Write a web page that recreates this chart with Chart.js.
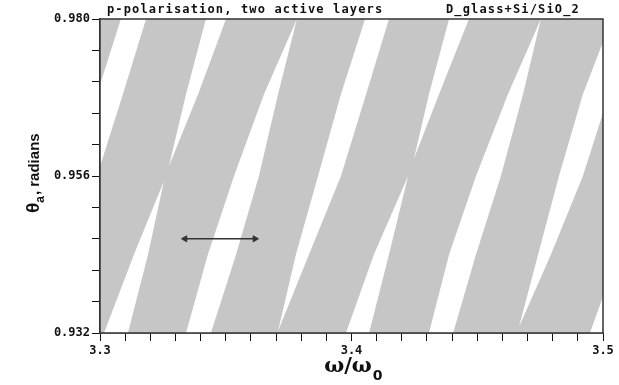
<!DOCTYPE html>
<html>
<head>
<meta charset="utf-8">
<script src="https://cdn.jsdelivr.net/npm/chart.js@4.4.1/dist/chart.umd.min.js"></script>
<style>
html, body { margin: 0; padding: 0; background: #fff; }
#caixa { width: 619px; height: 385px; }
</style>
</head>
<body>
<div id="caixa"><canvas id="grafico" width="619" height="385"></canvas></div>
<script>
// eixos
var xMin = 3.3, xMax = 3.5;
var yMin = 0.932, yMax = 0.980;
var xTicks = [3.30, 3.31, 3.32, 3.33, 3.34, 3.35, 3.36, 3.37, 3.38, 3.39, 3.40,
              3.41, 3.42, 3.43, 3.44, 3.45, 3.46, 3.47, 3.48, 3.49, 3.50];
var xLabels = [3.3, 3.4, 3.5];
var yTicks = [0.932, 0.9368, 0.9416, 0.9464, 0.9512, 0.956, 0.9608, 0.9656, 0.9704, 0.9752, 0.980];
var yLabels = [0.932, 0.956, 0.980];

// faixas brancas (gaps) entre as bandas cinzas: contorno x / y
var gapA_x = [3.3083, 3.2988, 3.2897, 3.2988, 3.3091, 3.3183];
var gapA_y = [0.980, 0.9685, 0.956, 0.956, 0.9685, 0.980];

var gapBsup_x = [3.3421, 3.3342, 3.3274, 3.3390, 3.3501];
var gapBsup_y = [0.980, 0.9685, 0.9575, 0.9685, 0.980];
var gapBinf_x = [3.3254, 3.3135, 3.3016, 3.3111, 3.3191];
var gapBinf_y = [0.9552, 0.944, 0.932, 0.932, 0.944];

var gapC_x = [3.3783, 3.3652, 3.3533, 3.3429, 3.3342, 3.3441, 3.3541, 3.3632, 3.3708];
var gapC_y = [0.980, 0.9685, 0.956, 0.944, 0.932, 0.932, 0.944, 0.956, 0.9685];

var gapD_x = [3.4054, 3.3958, 3.3867, 3.3779, 3.3708, 3.3831, 3.3958, 3.4058, 3.4149];
var gapD_y = [0.980, 0.9685, 0.956, 0.944, 0.9323, 0.944, 0.956, 0.9685, 0.980];

var gapEsup_x = [3.4388, 3.4308, 3.4248, 3.4348, 3.4467];
var gapEsup_y = [0.980, 0.9685, 0.9586, 0.9685, 0.980];
var gapEinf_x = [3.4225, 3.4089, 3.3978, 3.4070, 3.4149];
var gapEinf_y = [0.9560, 0.944, 0.932, 0.932, 0.944];

var gapF_x = [3.4753, 3.4622, 3.4495, 3.4388, 3.4308, 3.4404, 3.4495, 3.4594, 3.4682];
var gapF_y = [0.980, 0.9685, 0.956, 0.944, 0.932, 0.932, 0.944, 0.956, 0.9685];

var gapG_x = [3.5035, 3.4920, 3.4825, 3.4742, 3.4666, 3.4793, 3.4920, 3.5024, 3.5120];
var gapG_y = [0.980, 0.9685, 0.956, 0.944, 0.9329, 0.944, 0.956, 0.9685, 0.980];

var gapH_x = [3.5195, 3.5060, 3.4948, 3.5040, 3.5119];
var gapH_y = [0.9560, 0.944, 0.932, 0.932, 0.944];

// seta horizontal
var setaX = [3.3338, 3.3616];
var setaY = [0.9464, 0.9464];

var cinza = "#c6c6c6";

function pontos(xs, ys){
    return xs.map(function(x, i){ return {x: x, y: ys[i]}; });
}
function faixa(xs, ys){
    return {
        data: pontos(xs, ys),
        fill: "shape",
        backgroundColor: "#ffffff",
        borderColor: "rgba(0,0,0,0)",
        borderWidth: 0,
        pointRadius: 0,
        tension: 0
    };
}
function temLabel(lista, v){
    return lista.some(function(l){ return Math.abs(l - v) < 1e-7; });
}

var fundo = {
    id: "fundo",
    beforeDatasetsDraw: function(chart){
        var a = chart.chartArea, ctx = chart.ctx;
        ctx.save();
        ctx.fillStyle = cinza;
        ctx.fillRect(a.left, a.top, a.right - a.left, a.bottom - a.top);
        ctx.restore();
    },
    afterDatasetsDraw: function(chart){
        var a = chart.chartArea, ctx = chart.ctx;
        ctx.save();
        ctx.strokeStyle = "#333";
        ctx.lineWidth = 1.5;
        ctx.strokeRect(a.left, a.top, a.right - a.left, a.bottom - a.top);
        ctx.restore();
    }
};

var textos = {
    id: "textos",
    afterDraw: function(chart){
        var ctx = chart.ctx;
        ctx.save();
        ctx.fillStyle = "#111";
        ctx.textBaseline = "alphabetic";
        ctx.textAlign = "left";
        ctx.font = "bold 12px 'DejaVu Sans Mono'";
        ctx.letterSpacing = "1.15px";
        ctx.fillText("p-polarisation, two active layers", 107, 13);
        ctx.fillText("D_glass+Si/SiO_2", 446, 13);
        ctx.letterSpacing = "0px";

        // titulo eixo y
        ctx.save();
        ctx.translate(39, 213);
        ctx.rotate(-Math.PI / 2);
        ctx.font = "bold 19px 'Liberation Sans'";
        ctx.fillText("\u03b8", 0, 0);
        var w1 = ctx.measureText("\u03b8").width;
        ctx.font = "bold 12px 'Liberation Sans'";
        ctx.fillText("a", w1, 5);
        var w2 = ctx.measureText("a").width;
        ctx.font = "bold 15px 'Liberation Sans'";
        ctx.fillText(", radians", w1 + w2 + 1, 0);
        ctx.restore();

        // titulo eixo x
        ctx.font = "bold 21px 'DejaVu Serif'";
        var t = "\u03c9/\u03c9";
        var wt = ctx.measureText(t).width;
        var x0 = 352 - wt / 2 - 4;
        ctx.fillText(t, x0, 372);
        ctx.font = "bold 14px 'DejaVu Sans'";
        ctx.fillText("0", x0 + wt + 1, 380);
        ctx.restore();
    }
};

// a seta vai primeiro: o Chart.js desenha o dataset 0 por cima
var datasets = [
    {
        data: pontos(setaX, setaY),
        fill: false,
        borderColor: "#333",
        borderWidth: 1.5,
        pointStyle: "triangle",
        pointRotation: [-90, 90],
        pointRadius: 3.5,
        pointBackgroundColor: "#333",
        pointBorderColor: "#333",
        pointBorderWidth: 1
    },
    faixa(gapA_x, gapA_y),
    faixa(gapBsup_x, gapBsup_y),
    faixa(gapBinf_x, gapBinf_y),
    faixa(gapC_x, gapC_y),
    faixa(gapD_x, gapD_y),
    faixa(gapEsup_x, gapEsup_y),
    faixa(gapEinf_x, gapEinf_y),
    faixa(gapF_x, gapF_y),
    faixa(gapG_x, gapG_y),
    faixa(gapH_x, gapH_y)
];

var fonteTick = {family: "'DejaVu Sans Mono'", size: 12, weight: "bold"};

new Chart("grafico", {
    type: "line",
    data: { datasets: datasets },
    plugins: [fundo, textos],
    options: {
        responsive: false,
        animation: false,
        devicePixelRatio: 1,
        layout: { padding: { left: 0, right: 16, top: 19, bottom: 0 } },
        plugins: {
            legend: { display: false },
            tooltip: { enabled: false }
        },
        scales: {
            x: {
                type: "linear",
                min: xMin,
                max: xMax,
                afterBuildTicks: function(ax){ ax.ticks = xTicks.map(function(v){ return {value: v}; }); },
                afterFit: function(ax){ ax.height = 52; },
                ticks: {
                    autoSkip: false,
                    maxRotation: 0,
                    padding: 3,
                    color: "#111",
                    font: fonteTick,
                    callback: function(v){ return temLabel(xLabels, v) ? v.toFixed(1) : ""; }
                },
                grid: { drawOnChartArea: false, tickLength: 8, color: "#111", tickColor: "#111" },
                border: { display: true, color: "#333", width: 1.5 }
            },
            y: {
                min: yMin,
                max: yMax,
                afterBuildTicks: function(ax){ ax.ticks = yTicks.map(function(v){ return {value: v}; }); },
                afterFit: function(ax){ ax.width = 100; },
                ticks: {
                    autoSkip: false,
                    padding: 2,
                    color: "#111",
                    font: fonteTick,
                    callback: function(v){ return temLabel(yLabels, v) ? v.toFixed(3) : ""; }
                },
                grid: { drawOnChartArea: false, tickLength: 8, color: "#111", tickColor: "#111" },
                border: { display: true, color: "#333", width: 1.5 }
            }
        }
    }
});
</script>
</body>
</html>
